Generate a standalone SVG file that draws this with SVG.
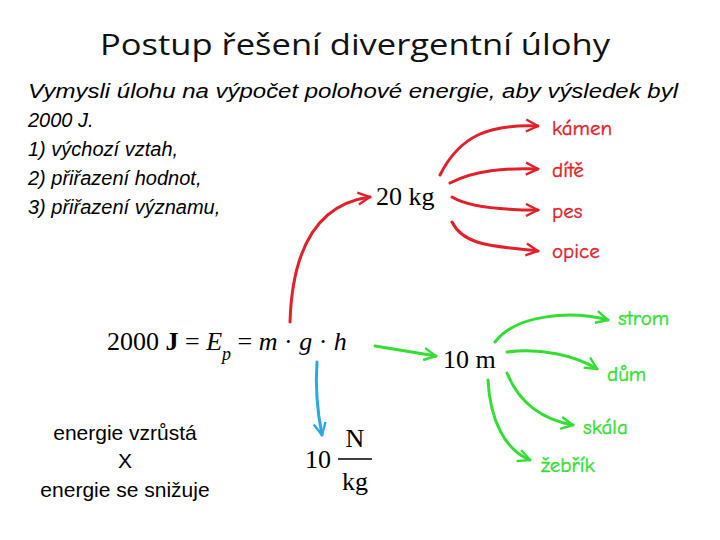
<svg xmlns="http://www.w3.org/2000/svg" width="720" height="540" viewBox="0 0 720 540">
<style>
.t{font-family:"Open Sans","Liberation Sans",sans-serif;font-size:29px;fill:#111}
.i{font-family:"Liberation Sans",Arial,sans-serif;font-style:italic;font-size:20px;fill:#000}
.n{font-family:"Liberation Sans",Arial,sans-serif;font-size:21px;fill:#000;text-anchor:middle}
.m{font-family:"Liberation Serif","Times New Roman",serif;font-size:26px;fill:#000}
.r{font-family:"Comic Neue","DejaVu Sans",sans-serif;font-size:21px;fill:#e0202a;stroke:#e0202a;stroke-width:0.4}
.g{font-family:"Comic Neue","DejaVu Sans",sans-serif;font-size:21px;fill:#33dd33;stroke:#33dd33;stroke-width:0.4}
.cr{fill:none;stroke:#e0202a;stroke-width:3;stroke-linecap:round;marker-end:url(#ar)}
.cg{fill:none;stroke:#33dd33;stroke-width:3;stroke-linecap:round;marker-end:url(#ag)}
.cb{fill:none;stroke:#2aa8e0;stroke-width:3;stroke-linecap:round;marker-end:url(#ab)}
</style>
<defs>
<marker id="ar" viewBox="0 0 10 10" refX="9" refY="5" markerWidth="5" markerHeight="5" orient="auto" markerUnits="strokeWidth"><path d="M1,1 L9,5 L1,9" fill="none" stroke="#e0202a" stroke-width="1.6"/></marker>
<marker id="ag" viewBox="0 0 10 10" refX="9" refY="5" markerWidth="5" markerHeight="5" orient="auto" markerUnits="strokeWidth"><path d="M1,1 L9,5 L1,9" fill="none" stroke="#33dd33" stroke-width="1.6"/></marker>
<marker id="ab" viewBox="0 0 10 10" refX="9" refY="5" markerWidth="5" markerHeight="5" orient="auto" markerUnits="strokeWidth"><path d="M1,1 L9,5 L1,9" fill="none" stroke="#2aa8e0" stroke-width="1.6"/></marker>
</defs>
<rect width="720" height="540" fill="#fff"/>
<text class="t" x="355" y="55" text-anchor="middle" textLength="510" lengthAdjust="spacingAndGlyphs">Postup řešení divergentní úlohy</text>
<g id="task">
<text class="i" x="28" y="98" textLength="650" lengthAdjust="spacingAndGlyphs">Vymysli úlohu na výpočet polohové energie, aby výsledek byl</text>
<text class="i" x="28" y="127">2000 J.</text>
<text class="i" x="28" y="156">1) výchozí vztah,</text>
<text class="i" x="28" y="185">2) přiřazení hodnot,</text>
<text class="i" x="28" y="214">3) přiřazení významu,</text>
</g>
<g id="connectors">
<path class="cr" d="M290,322 C292,260 310,205 370,197"/>
<path class="cr" d="M440,175 C460,135 490,124 538,126"/>
<path class="cr" d="M450,183 C475,170 505,168 538,169"/>
<path class="cr" d="M452,197 C470,208 505,210 538,210"/>
<path class="cr" d="M452,222 C465,248 500,246 538,251"/>
<path class="cg" d="M375,346 L436,356"/>
<path class="cg" d="M495,342 C515,315 570,310 608,320"/>
<path class="cg" d="M507,352 C540,348 575,355 597,369"/>
<path class="cg" d="M507,373 C520,405 545,420 573,425"/>
<path class="cg" d="M488,380 C490,420 505,450 530,460"/>
<path class="cb" d="M317,362 C315,390 318,415 322,435"/>
</g>
<g id="kg"><text class="m" x="376" y="205">20 kg</text></g>
<g id="r1"><text class="r" x="552" y="135">kámen</text></g>
<g id="r2"><text class="r" x="552" y="177">dítě</text></g>
<g id="r3"><text class="r" x="552" y="218">pes</text></g>
<g id="r4"><text class="r" x="552" y="258">opice</text></g>
<g id="eq"><text class="m" x="107" y="350">2000 <tspan font-weight="bold">J</tspan> = <tspan font-style="italic">E</tspan><tspan font-style="italic" font-size="18" dy="10">p</tspan><tspan dy="-10"> = </tspan><tspan font-style="italic">m</tspan> · <tspan font-style="italic">g</tspan> · <tspan font-style="italic">h</tspan></text></g>
<g id="m10"><text class="m" x="443" y="368">10 m</text></g>
<g id="g1"><text class="g" x="618" y="325">strom</text></g>
<g id="g2"><text class="g" x="607" y="381">dům</text></g>
<g id="g3"><text class="g" x="583" y="434">skála</text></g>
<g id="g4"><text class="g" x="541" y="472">žebřík</text></g>
<g id="gval">
<text class="m" x="305" y="468">10</text>
<text class="m" x="355" y="447" text-anchor="middle">N</text>
<line x1="338" y1="459" x2="372" y2="459" stroke="#000" stroke-width="1.3"/>
<text class="m" x="355" y="490" text-anchor="middle">kg</text>
</g>
<g id="note">
<text class="n" x="125" y="440">energie vzrůstá</text>
<text class="n" x="125" y="468">X</text>
<text class="n" x="125" y="497">energie se snižuje</text>
</g>
</svg>
